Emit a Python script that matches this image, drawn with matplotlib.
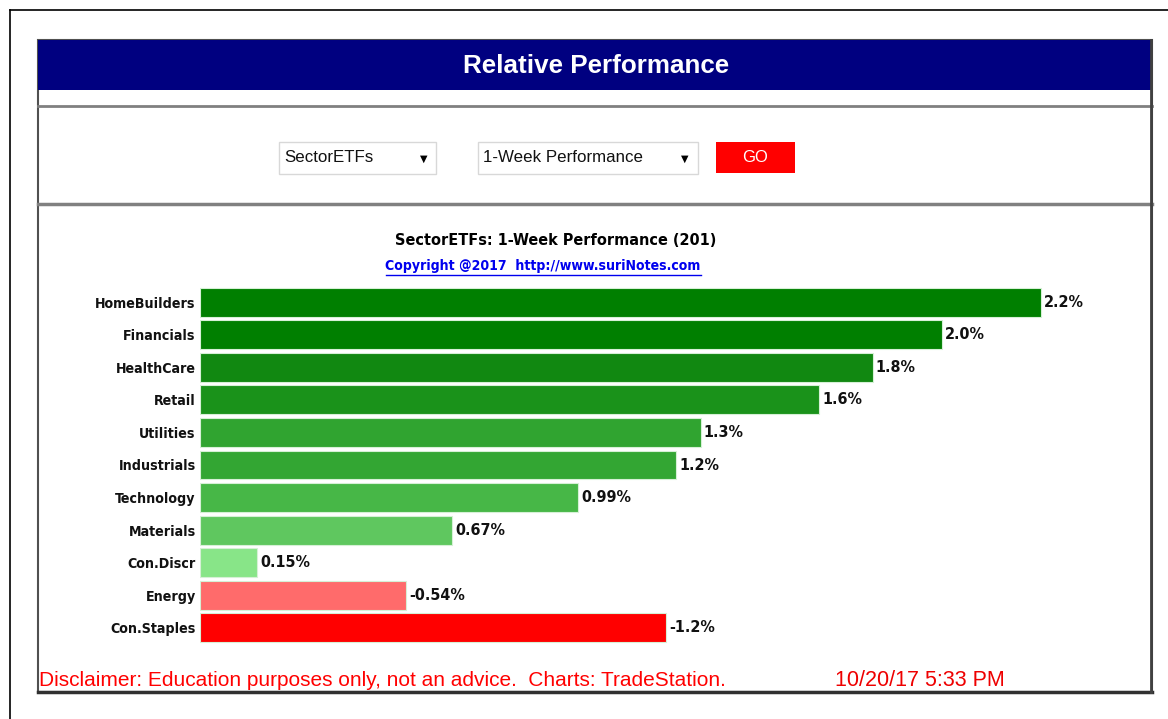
import matplotlib
matplotlib.use("Agg")
import matplotlib.pyplot as plt
from matplotlib.patches import Rectangle
from matplotlib.lines import Line2D

W, H = 1168, 719

# data
sectors = ["HomeBuilders", "Financials", "HealthCare", "Retail", "Utilities",
           "Industrials", "Technology", "Materials", "Con.Discr", "Energy",
           "Con.Staples"]
perf = [2.2, 1.94, 1.76, 1.62, 1.31, 1.245, 0.99, 0.66, 0.15, -0.54, -1.22]
perf_labels = ["2.2%", "2.0%", "1.8%", "1.6%", "1.3%", "1.2%", "0.99%",
               "0.67%", "0.15%", "-0.54%", "-1.2%"]
bar_colors = ["#007f00", "#007f00", "#118811", "#1a921a", "#30a430",
              "#33a633", "#47b747", "#5fc75f", "#88e588", "#ff6b6b",
              "#ff0000"]

ARIAL = ["Liberation Sans", "DejaVu Sans"]
NARROW = dict(family=["DejaVu Sans"], fontstretch="condensed")


def fx(x):
    return x / W


def fy(y):
    return 1 - y / H


def rect(x0, y0, x1, y1, **kw):
    fig.add_artist(Rectangle((fx(x0), fy(y1)), fx(x1) - fx(x0), fy(y0) - fy(y1),
                             transform=fig.transFigure, zorder=-2, **kw))


def line(x0, y0, x1, y1, **kw):
    fig.add_artist(Line2D([fx(x0), fx(x1)], [fy(y0), fy(y1)],
                          transform=fig.transFigure, zorder=-1, **kw))


fig = plt.figure(figsize=(W / 100, H / 100), dpi=100)
fig.patch.set_facecolor("white")

# outer frame
line(10, 10, W, 10, color="black", lw=1.2)
line(10, 10, 10, H, color="black", lw=1.2)

# panel
rect(38, 40, 1152, 692, facecolor="white", edgecolor="#505050", lw=1.5)
rect(38, 40, 1152, 90, facecolor="#000080", edgecolor="#000080", lw=0)
fig.text(fx(596), fy(66), "Relative Performance", color="white", fontsize=18.7,
         fontweight="bold", family=ARIAL, ha="center", va="center")
line(38, 106, 1152, 106, color="#808080", lw=2)
line(38, 204, 1152, 204, color="#808080", lw=2.5)
line(38, 692, 1152, 692, color="#303030", lw=2.5)
line(1151, 40, 1151, 692, color="#404040", lw=2)

# controls
rect(279, 142, 436, 174, facecolor="white", edgecolor="#d8d8d8", lw=1)
fig.text(fx(284), fy(158), "SectorETFs", fontsize=12.2, family=ARIAL,
         ha="left", va="center", color="#111111")
fig.text(fx(424), fy(159), "\u25bc", fontsize=7, family=["DejaVu Sans"],
         ha="center", va="center", color="black")
rect(478, 142, 698, 174, facecolor="white", edgecolor="#d8d8d8", lw=1)
fig.text(fx(483), fy(158), "1-Week Performance", fontsize=12.2, family=ARIAL,
         ha="left", va="center", color="#111111")
fig.text(fx(685), fy(159), "\u25bc", fontsize=7, family=["DejaVu Sans"],
         ha="center", va="center", color="black")
rect(716, 142, 795, 173, facecolor="#ff0000", edgecolor="#ff0000", lw=0)
fig.text(fx(755), fy(158), "GO", fontsize=12, family=ARIAL, color="white",
         ha="center", va="center")

# chart titles
fig.text(fx(556), fy(240), "SectorETFs: 1-Week Performance (201)", fontsize=11.6,
         fontweight="bold", ha="center", va="center", **NARROW)
fig.text(fx(543), fy(266), "Copyright @2017  http://www.suriNotes.com",
         fontsize=10.1, fontweight="bold", ha="center",
         va="center", color="#0000ee", **NARROW)
line(386, 275, 701, 275, color="#0000ee", lw=1)

# bars
ax_l, ax_r, ax_t, ax_b = 200, 1100, 286, 644
ax = fig.add_axes([fx(ax_l), fy(ax_b), fx(ax_r) - fx(ax_l), fy(ax_t) - fy(ax_b)])
ax.set_zorder(5)
ypos = list(range(len(sectors)))
mag = [abs(v) for v in perf]
ax.barh(ypos, mag, height=0.89, color=bar_colors, edgecolor="#d6f0d6", lw=0.8)
ax.set_xlim(0, (ax_r - ax_l) / 382.3)
ax.set_ylim(len(sectors) - 0.5, -0.5)
for y, m, lab in zip(ypos, mag, perf_labels):
    ax.text(m + 0.008, y, lab, fontsize=11.5, fontweight="bold",
            ha="left", va="center", color="#111111", **NARROW)
ax.set_yticks(ypos)
ax.set_yticklabels(sectors, fontsize=10.2, fontweight="bold",
                   color="#111111", **NARROW)
ax.tick_params(axis="y", length=0, pad=3)
ax.set_xticks([])
for s in ax.spines.values():
    s.set_visible(False)
ax.patch.set_alpha(0)

# footer
fig.text(fx(39), fy(681), "Disclaimer: Education purposes only, not an advice.  Charts: TradeStation.",
         fontsize=15, family=ARIAL, color="#ff0000", ha="left", va="center")
fig.text(fx(835), fy(680), "10/20/17 5:33 PM", fontsize=15.5, family=ARIAL,
         color="#ee0000", ha="left", va="center")

fig.savefig("out.png", dpi=100)
